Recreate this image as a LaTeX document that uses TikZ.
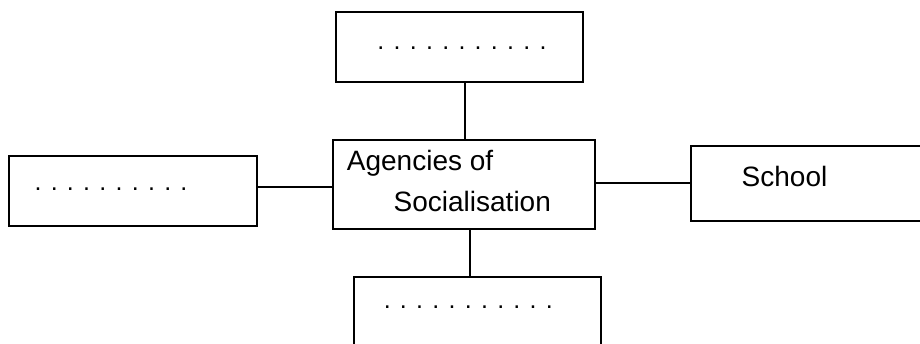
\documentclass[tikz,border=0pt]{standalone}
\usepackage{fontspec}
\setmainfont{Liberation Sans}
\begin{document}
\begin{tikzpicture}[x=1pt,y=-1pt,
  box/.style={draw=black,line width=2.3pt,rectangle,inner sep=0pt,fill=none},
  conn/.style={draw=black,line width=2pt},
  lbl/.style={inner sep=0pt,font=\fontsize{28}{34}\selectfont},
  dots/.style={inner sep=0pt,font=\fontsize{25}{30}\selectfont}]
\useasboundingbox (0,0) rectangle (920,343);
\clip (0,0) rectangle (920,343);

% boxes
\node[box,minimum width=246.7pt,minimum height=70pt] (top) at (459.3,46.7) {};
\node[box,minimum width=247.7pt,minimum height=70pt] (left) at (132.8,191) {};
\node[box,minimum width=262.3pt,minimum height=88.7pt] (ctr) at (463.8,184.3) {};
\node[box,minimum width=244pt,minimum height=74.7pt] (right) at (813,183.3) {};
\node[box,minimum width=246.7pt,minimum height=72pt] (bottom) at (477.3,313) {};

% texts
\node[lbl,anchor=base west] (t1) at (346.7,170) {Agencies of};
\node[lbl,anchor=base west] (t2) at (393.5,211.7) {Socialisation};
\node[lbl,anchor=base west] (t3) at (741.5,186) {School};
\node[dots] (d1) at (462,48) {. . . . . . . . . . .};
\node[dots] (d2) at (111,189) {. . . . . . . . . .};
\node[dots] (d3) at (468.3,307) {. . . . . . . . . . .};

% connectors
\draw[conn] (464.7,0 |- top.south) -- (464.7,0 |- ctr.north);
\draw[conn] (left.east |- 0,186.7) -- (ctr.west |- 0,186.7);
\draw[conn] (ctr.east |- 0,183) -- (right.west |- 0,183);
\draw[conn] (470,0 |- ctr.south) -- (470,0 |- bottom.north);
\end{tikzpicture}
\end{document}
